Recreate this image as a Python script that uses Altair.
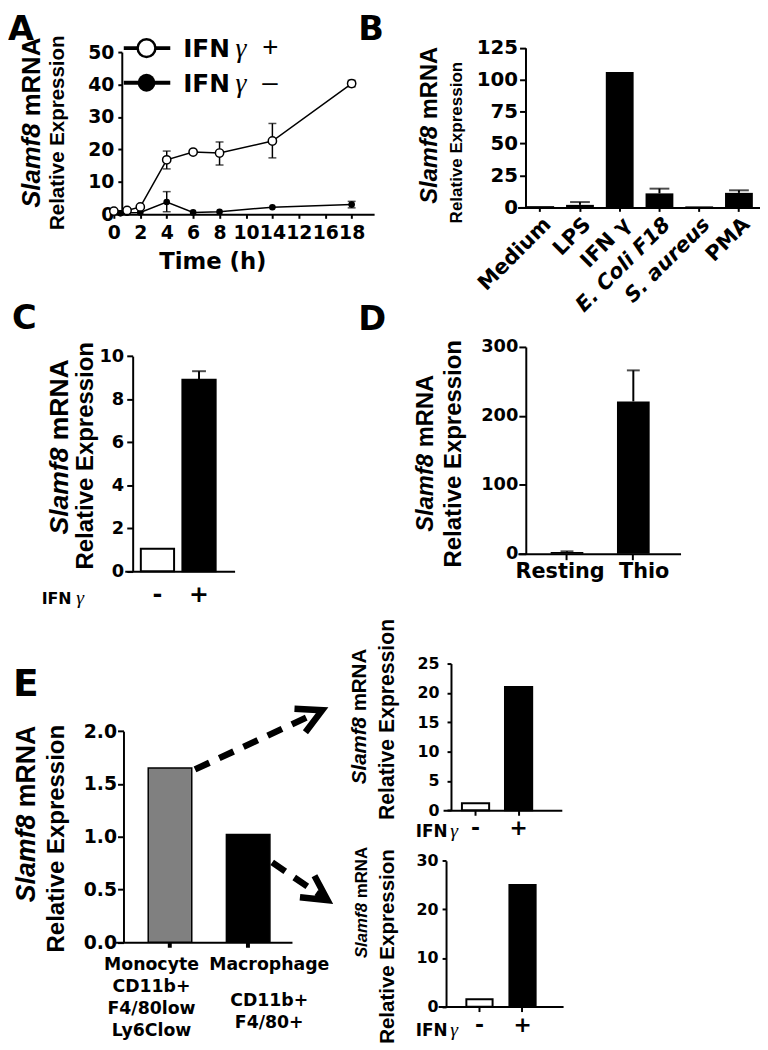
import altair as alt
import pandas as pd

LBL = "DejaVu Sans"
TTL = "Liberation Sans"
SERIF = "Liberation Serif"
W, H = 760, 1042

# ---------------- Panel A data ----------------
a_time_pos = [0, 1, 2, 4, 6, 8, 12, 18]
a_val_pos = [1.0, 1.2, 2.3, 16.8, 19.2, 18.9, 22.6, 40.3]
a_time_neg = [0, 0.5, 1, 2, 4, 6, 8, 12, 18]
a_val_neg = [0.8, 0.3, 0.5, 0.6, 3.8, 0.6, 0.8, 2.2, 3.0]
a_err_time_pos = [4, 8, 12, 18]
a_err_lo_pos = [14.0, 15.2, 17.4, 39.3]
a_err_hi_pos = [19.5, 22.3, 28.0, 41.3]
a_err_time_neg = [4, 18]
a_err_lo_neg = [0.8, 2.0]
a_err_hi_neg = [7.0, 4.0]
a_tick_values = [0, 2, 4, 6, 8, 10, 12, 14, 16, 18]
a_tick_labels = ["0", "2", "4", "6", "8", "10", "14", "12", "16", "18"]
a_y_ticks = [0, 10, 20, 30, 40, 50]

# ---------------- Panel B data ----------------
b_cats = ["Medium", "LPS", "IFN γ", "E. Coli F18", "S. aureus", "PMA"]
b_vals = [1.0, 2.0, 106.0, 11.0, 0.8, 11.4]
b_err_cats = ["LPS", "E. Coli F18", "PMA"]
b_err_lo = [2.0, 11.0, 11.4]
b_err_hi = [4.2, 14.7, 13.4]
b_y_ticks = [0, 25, 50, 75, 100, 125]

# ---------------- Panel C data ----------------
c_cats = ["-", "+"]
c_vals = [1.05, 8.9]
c_fill = ["white", "black"]
c_err_cats = ["+"]
c_err_lo = [8.9]
c_err_hi = [9.3]
c_y_ticks = [0, 2, 4, 6, 8, 10]

# ---------------- Panel D data ----------------
d_cats = ["Resting", "Thio"]
d_vals = [2.5, 221.0]
d_err_cats = ["Resting", "Thio"]
d_err_lo = [2.5, 221.0]
d_err_hi = [3.5, 266.0]
d_y_ticks = [0, 100, 200, 300]

# ---------------- Panel E data ----------------
e_cats = ["Monocyte", "Macrophage"]
e_vals = [1.65, 1.02]
e_fill = ["#808080", "black"]
e_label_head = ["Monocyte", "Macrophage"]
e_label_rest = ["CD11b+\nF4/80low\nLy6Clow", "CD11b+\nF4/80+"]
e_y_ticks = [0, 0.5, 1.0, 1.5, 2.0]

et_cats = ["-", "+"]
et_vals = [1.2, 21.0]
et_fill = ["white", "black"]
et_y_ticks = [0, 5, 10, 15, 20, 25]

eb_cats = ["-", "+"]
eb_vals = [1.5, 25.0]
eb_fill = ["white", "black"]
eb_y_ticks = [0, 10, 20, 30]

ONE = alt.Data(values=[{"k": 0}])


def R(v):
    return v - 8


def T(text, x, y, size, font=LBL, weight="bold", style="normal",
      align="left", baseline="alphabetic", angle=0):
    return alt.Chart(ONE).mark_text(
        text=text, font=font, fontSize=size, fontWeight=weight, fontStyle=style,
        align=align, baseline=baseline, angle=angle, color="black"
    ).encode(x=alt.value(R(x)), y=alt.value(R(y)))


def YTITLE(x1, yc1, fs1, x2, yc2, fs2):
    ys = yc1 + 0.027 * fs1
    ym = ys - 0.278 * fs1
    return [
        T("Slamf8", x1, ys, fs1, font=TTL, style="italic", align="right",
          baseline="middle", angle=270),
        T("mRNA", x1, ym, fs1, font=TTL, align="left", baseline="middle", angle=270),
        T("Relative Expression", x2, yc2, fs2, font=TTL, align="center",
          baseline="middle", angle=270),
    ]


def AX(values=None, size=18, tick=4, pad=2, fmt=None, angle=0, ticks=True,
       labels=True, tickwidth=2, **kw):
    d = dict(title=None, grid=False, labelFont=LBL, labelFontWeight="bold",
             labelFontSize=size, labelColor="black", tickColor="black",
             tickSize=tick, tickWidth=tickwidth, domainColor="black", domainWidth=2,
             labelPadding=pad, labelOverlap=False, labelFlush=False,
             labelAngle=angle, ticks=ticks, labels=labels)
    if values is not None:
        d["values"] = values
    if fmt:
        d["format"] = fmt
    d.update(kw)
    return alt.Axis(**d)


def YAX(values, x0, **kw):
    # left axis placed at reference x0
    return AX(values, orient="left", offset=-x0, **kw)


def XAX(ybot, values=None, **kw):
    return AX(values, orient="bottom", offset=-(H - R(ybot)), **kw)


def BARS(cats, vals, fills, xs, xa, ys, ya, sw=1.5):
    df = pd.DataFrame({"cat": cats, "val": vals, "fill": fills})
    return alt.Chart(df).mark_bar(stroke="black", strokeWidth=sw).encode(
        x=alt.X("cat:N", scale=xs, axis=xa),
        y=alt.Y("val:Q", scale=ys, axis=ya),
        fill=alt.Fill("fill:N", scale=None),
    )


def ERRS(cats, lo, hi, xs, xa, ys, ya, cap):
    df = pd.DataFrame({"cat": cats, "lo": lo, "hi": hi})
    base = alt.Chart(df)
    rule = base.mark_rule(color="black", strokeWidth=2).encode(
        x=alt.X("cat:N", scale=xs, axis=xa),
        y=alt.Y("lo:Q", scale=ys, axis=ya), y2="hi:Q")
    capm = base.mark_tick(color="black", size=cap, thickness=2, orient="horizontal").encode(
        x=alt.X("cat:N", scale=xs, axis=xa),
        y=alt.Y("hi:Q", scale=ys, axis=ya))
    return [rule, capm]


def CATLABEL(df, cat, field, y, dx, xs, xa, size, lh=22):
    return alt.Chart(df).transform_filter(alt.datum.cat == cat).mark_text(
        font=LBL, fontWeight="bold", fontSize=size, align="center", baseline="alphabetic",
        dx=dx, lineBreak="\n", lineHeight=lh, color="black"
    ).encode(x=alt.X("cat:N", scale=xs, axis=xa), y=alt.value(R(y)), text=f"{field}:N")


# ================= Panel A =================
a_expr = " : ".join(f"datum.value == {v} ? '{l}'" for v, l in zip(a_tick_values, a_tick_labels)) + " : datum.label"
xs_A = alt.Scale(domain=[0, 19.7], range=[R(115), R(378)], nice=False, zero=False)
ys_A = alt.Scale(domain=[0, 50], range=[R(211), R(47)], nice=False)
xa_A = XAX(211, a_tick_values, size=19, tick=4, pad=5, labelExpr=a_expr)
ya_A = YAX(a_y_ticks, 115, size=19, tick=4, pad=4)

df_pos = pd.DataFrame({"t": a_time_pos, "v": a_val_pos})
df_neg = pd.DataFrame({"t": a_time_neg, "v": a_val_neg})
df_epos = pd.DataFrame({"t": a_err_time_pos, "lo": a_err_lo_pos, "hi": a_err_hi_pos})
df_eneg = pd.DataFrame({"t": a_err_time_neg, "lo": a_err_lo_neg, "hi": a_err_hi_neg})


def a_err(df):
    X = alt.X("t:Q", scale=xs_A, axis=xa_A)
    r = alt.Chart(df).mark_rule(color="black", strokeWidth=1.5).encode(
        x=X, y=alt.Y("lo:Q", scale=ys_A, axis=ya_A), y2="hi:Q")
    c1 = alt.Chart(df).mark_tick(color="black", size=8, thickness=1.5, orient="horizontal").encode(
        x=X, y=alt.Y("lo:Q", scale=ys_A, axis=ya_A))
    c2 = alt.Chart(df).mark_tick(color="black", size=8, thickness=1.5, orient="horizontal").encode(
        x=X, y=alt.Y("hi:Q", scale=ys_A, axis=ya_A))
    return [r, c1, c2]


def a_enc():
    return dict(x=alt.X("t:Q", scale=xs_A, axis=xa_A), y=alt.Y("v:Q", scale=ys_A, axis=ya_A))


panelA = alt.layer(
    *a_err(df_eneg),
    alt.Chart(df_neg).mark_line(color="black", strokeWidth=1.5).encode(**a_enc()),
    alt.Chart(df_neg).mark_circle(size=45, color="black", opacity=1).encode(**a_enc()),
    *a_err(df_epos),
    alt.Chart(df_pos).mark_line(color="black", strokeWidth=1.5).encode(**a_enc()),
    alt.Chart(df_pos).mark_circle(size=70, fill="white", stroke="black",
                                  strokeWidth=1.5, opacity=1).encode(**a_enc()),
).resolve_scale(x="shared", y="shared")

# ================= Panel B =================
xs_B = alt.Scale(domain=b_cats, range=[R(523), R(768)], paddingInner=0.3, paddingOuter=0.2, align=0.55)
ys_B = alt.Scale(domain=[0, 125], range=[R(204), R(42.7)], nice=False)
xa_B = XAX(204, size=21, tick=4, pad=2, angle=315, labelAlign="right", labelBaseline="top",
           labelFontStyle={"condition": {"test": "datum.value == 'S. aureus' || datum.value == 'E. Coli F18'",
                                         "value": "italic"}, "value": "normal"})
ya_B = YAX(b_y_ticks, 523, size=20, tick=6, pad=2)
panelB = alt.layer(
    BARS(b_cats, b_vals, ["black"] * 6, xs_B, xa_B, ys_B, ya_B, sw=0),
    *ERRS(b_err_cats, b_err_lo, b_err_hi, xs_B, xa_B, ys_B, ya_B, 20),
).resolve_scale(x="shared", y="shared")

# ================= Panel C =================
xs_C = alt.Scale(domain=c_cats, range=[R(126), R(237)], paddingInner=0.2, paddingOuter=0.421, align=0.459)
ys_C = alt.Scale(domain=[0, 10], range=[R(571.7), R(354.3)], nice=False)
xa_C = XAX(571.7, size=24, tick=0, pad=12, ticks=False)
ya_C = YAX(c_y_ticks, 126, size=18, tick=6, pad=3)
panelC = alt.layer(
    BARS(c_cats, c_vals, c_fill, xs_C, xa_C, ys_C, ya_C, sw=2),
    *ERRS(c_err_cats, c_err_lo, c_err_hi, xs_C, xa_C, ys_C, ya_C, 14),
).resolve_scale(x="shared", y="shared")

# ================= Panel D =================
xs_D = alt.Scale(domain=d_cats, range=[R(523.3), R(687.7)], paddingInner=0.507, paddingOuter=0.48, align=0.515)
ys_D = alt.Scale(domain=[0, 300], range=[R(554), R(345)], nice=False)
xa_D = XAX(554, size=21, tick=6, pad=2, labels=False)
ya_D = YAX(d_y_ticks, 523.3, size=18, tick=7, pad=1)
df_dl = pd.DataFrame({"cat": d_cats, "lab": d_cats})
panelD = alt.layer(
    BARS(d_cats, d_vals, ["black", "black"], xs_D, xa_D, ys_D, ya_D, sw=0),
    *ERRS(d_err_cats, d_err_lo, d_err_hi, xs_D, xa_D, ys_D, ya_D, 13),
    CATLABEL(df_dl, "Resting", "lab", 578.3, -7, xs_D, xa_D, 21),
    CATLABEL(df_dl, "Thio", "lab", 578.3, 11, xs_D, xa_D, 21),
).resolve_scale(x="shared", y="shared")

# ================= Panel E (left) =================
xs_E = alt.Scale(domain=e_cats, range=[R(116.7), R(295)], paddingInner=0.443, paddingOuter=0.35, align=0.597)
ys_E = alt.Scale(domain=[0, 2], range=[R(946.7), R(733.3)], nice=False)
xa_E = XAX(946.7, size=17, tick=5, pad=2, labels=False, tickwidth=4)
ya_E = YAX(e_y_ticks, 116.7, size=19, tick=6, pad=1, fmt=".1f")
df_el = pd.DataFrame({"cat": e_cats, "head": e_label_head, "rest": e_label_rest})
panelE = alt.layer(
    BARS(e_cats, e_vals, e_fill, xs_E, xa_E, ys_E, ya_E, sw=1.5),
    CATLABEL(df_el, "Monocyte", "head", 974.5, -18.7, xs_E, xa_E, 17.5, 22.3),
    CATLABEL(df_el, "Monocyte", "rest", 996.5, -18.7, xs_E, xa_E, 17.5, 22.3),
    CATLABEL(df_el, "Macrophage", "head", 974.5, 21.3, xs_E, xa_E, 17.5, 22),
    CATLABEL(df_el, "Macrophage", "rest", 1011, 21.3, xs_E, xa_E, 17.5, 22),
).resolve_scale(x="shared", y="shared")

# ================= Panel E (right top) =================
xs_ET = alt.Scale(domain=et_cats, range=[R(447.7), R(567.7)], paddingInner=0.368, paddingOuter=0.563, align=0.389)
ys_ET = alt.Scale(domain=[0, 25], range=[R(813.3), R(665)], nice=False)
xa_ET = XAX(813.3, size=22, tick=5, pad=2)
ya_ET = YAX(et_y_ticks, 447.7, size=16, tick=4, pad=8)
panelET = alt.layer(
    BARS(et_cats, et_vals, et_fill, xs_ET, xa_ET, ys_ET, ya_ET, sw=2),
).resolve_scale(x="shared", y="shared")

# ================= Panel E (right bottom) =================
xs_EB = alt.Scale(domain=eb_cats, range=[R(442.7), R(569)], paddingInner=0.391, paddingOuter=0.647, align=0.507)
ys_EB = alt.Scale(domain=[0, 30], range=[R(1011.7), R(864.3)], nice=False)
xa_EB = XAX(1011.7, size=22, tick=5, pad=3)
ya_EB = YAX(eb_y_ticks, 442.7, size=16, tick=4, pad=4)
panelEB = alt.layer(
    BARS(eb_cats, eb_vals, eb_fill, xs_EB, xa_EB, ys_EB, ya_EB, sw=2),
).resolve_scale(x="shared", y="shared")


# ================= decorations (text, legend, arrows) =================
def shaft(x1, y1, x2, y2):
    return alt.Chart(ONE).mark_rule(color="black", strokeWidth=6.5, strokeDash=[16, 11],
                                    strokeCap="butt").encode(
        x=alt.value(R(x1)), y=alt.value(R(y1)), x2=alt.value(R(x2)), y2=alt.value(R(y2)))


def head(x, y, ang):
    return alt.Chart(ONE).mark_point(shape="M-1,-0.53L0,0L-1,0.53", filled=False, size=2450,
                                     strokeWidth=6.5, color="black", opacity=1, angle=ang,
                                     strokeJoin="miter").encode(x=alt.value(R(x)), y=alt.value(R(y)))


def legrow(y, open_):
    circ = (alt.Chart(ONE).mark_circle(size=324, fill="white", stroke="black", strokeWidth=2.5, opacity=1)
            if open_ else alt.Chart(ONE).mark_circle(size=324, color="black", opacity=1))
    return [
        alt.Chart(ONE).mark_rule(color="black", strokeWidth=4).encode(
            x=alt.value(R(125)), x2=alt.value(R(172)), y=alt.value(R(y))),
        circ.encode(x=alt.value(R(148)), y=alt.value(R(y))),
        T("IFN", 185, y + 1, 25, baseline="middle"),
        T("γ", 238, y + 1, 28, font=SERIF, weight="normal", style="italic", baseline="middle"),
        T("+" if open_ else "–", 265, y, 28, font=TTL, weight="normal", baseline="middle"),
    ]


deco = alt.layer(
    *legrow(43, True), *legrow(78, False),
    T("Time (h)", 215, 266.7, 23, align="center"),
    T("IFN", 42, 605, 16), T("γ", 77, 605, 20, font=SERIF, weight="normal", style="italic"),
    T("IFN", 420, 840, 17), T("γ", 455, 840, 20, font=SERIF, weight="normal", style="italic"),
    T("IFN", 420, 1041.7, 17), T("γ", 455, 1041.7, 20, font=SERIF, weight="normal", style="italic"),
    shaft(197, 772, 322.8, 713.4), head(325.5, 712.1, 335),
    shaft(275, 866, 328.4, 902.5), head(330.9, 904.2, 34),
    *YTITLE(32, 118.5, 26, 59, 128.5, 20.7),
    *YTITLE(435, 121, 24, 462, 138.5, 17.2),
    *YTITLE(61, 446, 26.8, 87, 455, 24.2),
    *YTITLE(431, 452.5, 24, 459, 453, 24.2),
    *YTITLE(27.5, 817, 27, 57.5, 842, 24.2),
    *YTITLE(364, 718.5, 20.7, 392, 721.5, 21.4),
    *YTITLE(366, 906.5, 17, 392, 951, 20.7),
    T("A", 8, 35, 34),
    T("B", 362, 35, 34),
    T("C", 12, 327, 34),
    T("D", 362, 328, 34),
    T("E", 13, 698, 38),
)

chart = alt.layer(
    panelA, panelB, panelC, panelD, panelE, panelET, panelEB, deco
).resolve_scale(x="independent", y="independent").properties(
    width=W, height=H, padding=0
).configure_view(stroke=None)

chart.save("out.html", embed_options={"renderer": "svg", "actions": False})
